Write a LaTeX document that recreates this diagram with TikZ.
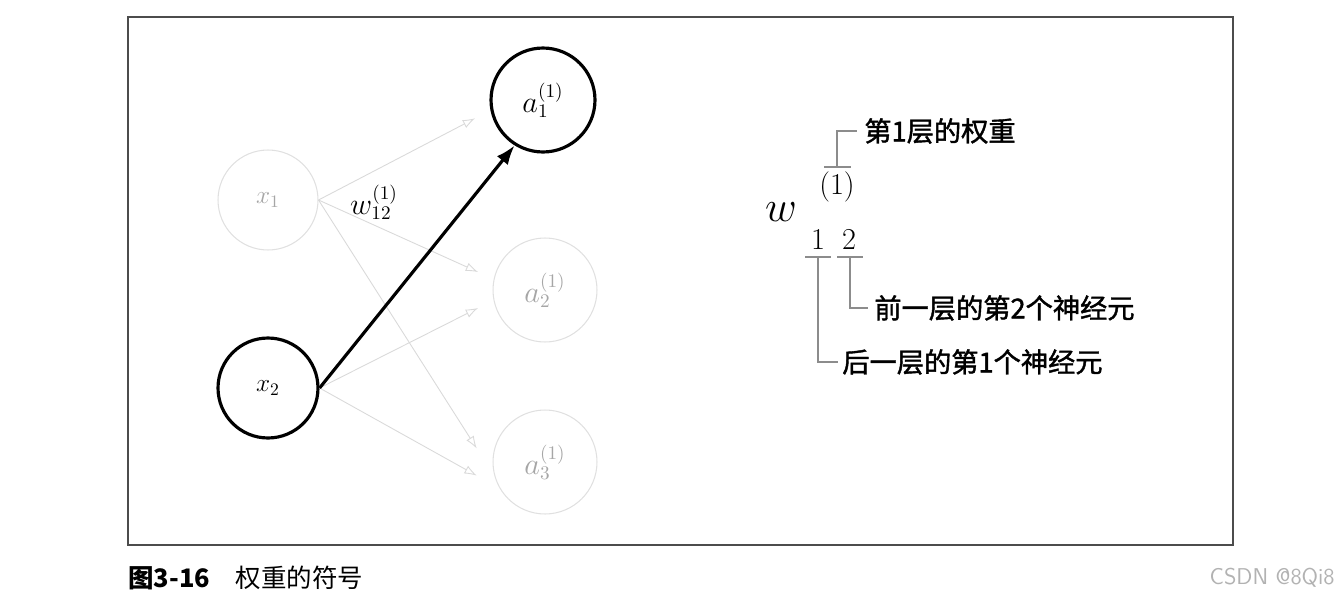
\documentclass[tikz,border=0pt]{standalone}
\usepackage{fontspec}
\newfontfamily\cjk{Noto Sans CJK SC}
\newfontfamily\cjkm[FakeBold=1.5]{Noto Sans CJK SC}
\usetikzlibrary{arrows.meta}
\begin{document}
\begin{tikzpicture}[x=0.02cm,y=-0.02cm,
  neur/.style={circle,minimum size=2cm,inner sep=0pt,font=\fontsize{14}{16}\selectfont},
  faint/.style={neur,draw=black!12,line width=0.6pt,text=black!35},
  bold/.style={neur,draw=black,line width=1.8pt},
  la/.style={draw=black!15,line width=0.5pt,-{Latex[open,length=7pt,width=5pt]}},
  brk/.style={draw=black!45,line width=0.7pt},
  lab/.style={font=\cjkm\fontsize{15.5}{17}\selectfont,anchor=west,inner sep=0pt}]
\useasboundingbox (0,0) rectangle (1339,602);
\draw[black!70,line width=0.6pt] (128,17) rectangle (1233,545);
\node[faint] (x1) at (268,200) {$x_1$};
\node[bold] (x2) at (268,388) {$x_2$};
\node[bold,minimum size=2.08cm,font=\fontsize{16}{18}\selectfont] (a1) at (543,100) {$a_1^{(1)}$};
\node[faint,minimum size=2.08cm,font=\fontsize{16}{18}\selectfont] (a2) at (545,290) {$a_2^{(1)}$};
\node[faint,minimum size=2.08cm,font=\fontsize{16}{18}\selectfont] (a3) at (545,462) {$a_3^{(1)}$};
\draw[la] (x1.east) -- ([xshift=-10pt]a1.200);
\draw[la] (x1.east) -- ([xshift=-10pt]a2.160);
\draw[la] (x1.east) -- ([xshift=-10pt]a3.165);
\draw[la] (x2.east) -- ([xshift=-10pt]a2.200);
\draw[la] (x2.east) -- ([xshift=-10pt]a3.195);
\draw[line width=1.8pt,-{Latex[length=11pt,width=8pt]}] (x2.east) -- (a1.238);
\node (w) at (374,202) {\fontsize{16}{18}\selectfont$w_{12}^{(1)}$};
\node (W) at (781,212) {\fontsize{36}{38}\selectfont$w$};
\node (p1) at (837,187) {\fontsize{17}{19}\selectfont$(1)$};
\node (s1) at (818,240) {\fontsize{17}{19}\selectfont$1$};
\node (s2) at (849,240) {\fontsize{17}{19}\selectfont$2$};
\node[lab] (t1) at (864,131) {第1层的权重};
\node[lab] (t2) at (874,308) {前一层的第2个神经元};
\node[lab] (t3) at (842,362) {后一层的第1个神经元};
\draw[brk] (824,167) -- (851,167);
\draw[brk] (837,167) -- (837,131) -- (857,131);
\draw[brk] (805,257) -- (831,257);
\draw[brk] (818,257) -- (818,362) -- (838,362);
\draw[brk] (837,257) -- (863,257);
\draw[brk] (850,257) -- (850,308) -- (868,308);
\node[anchor=west,inner sep=0pt] (cap) at (128,578) {\cjk\fontsize{14.5}{16}\selectfont\textbf{图3-16}\quad 权重的符号};
\node[anchor=east,inner sep=0pt,text=black!30] (wm) at (1335,578) {\fontsize{13}{15}\selectfont\sffamily CSDN @8Qi8};
\end{tikzpicture}
\end{document}
